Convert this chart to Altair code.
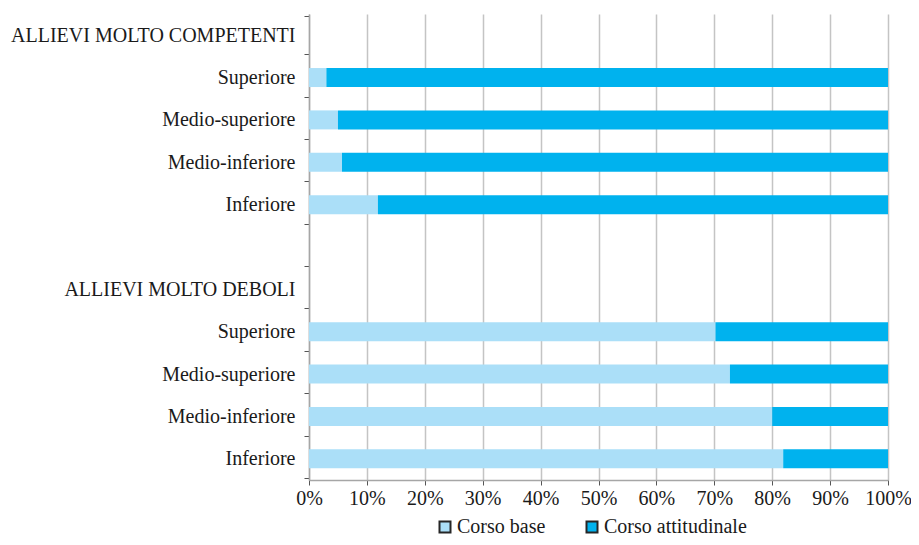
import altair as alt
import pandas as pd

row_labels = ["ALLIEVI MOLTO COMPETENTI", "Superiore", "Medio-superiore", "Medio-inferiore", "Inferiore",
              "", "ALLIEVI MOLTO DEBOLI", "Superiore", "Medio-superiore", "Medio-inferiore", "Inferiore"]
bar_rows = [1, 2, 3, 4, 7, 8, 9, 10]
series = ["Corso base", "Corso attitudinale"]
corso_base = [3.0, 5.0, 5.7, 11.9, 70.2, 72.7, 80.0, 81.9]
corso_attitudinale = [97.0, 95.0, 94.3, 88.1, 29.8, 27.3, 20.0, 18.1]
x_ticks = [0, 10, 20, 30, 40, 50, 60, 70, 80, 90, 100]
colors = ["#abdff8", "#00b2ee"]

rows = []
for r, b, a in zip(bar_rows, corso_base, corso_attitudinale):
    rows.append({"row": r, "serie": series[0], "ord": 0, "val": b})
    rows.append({"row": r, "serie": series[1], "ord": 1, "val": a})
df = pd.DataFrame(rows)

label_js = "[" + ",".join("'" + s + "'" for s in row_labels) + "]"
FONT = "Liberation Serif"
FS = 20

chart = alt.Chart(df).mark_bar(size=19).encode(
    y=alt.Y("row:O", scale=alt.Scale(domain=list(range(len(row_labels)))),
            axis=alt.Axis(title=None, labelExpr=label_js + "[datum.value]", tickBand="extent",
                          ticks=True, tickSize=5, tickColor="#555555", domainColor="#a6a6a6",
                          domainWidth=1.5, labelPadding=9, labelFontSize=FS, labelFont=FONT,
                          labelColor="#1a1a1a", grid=False, labelLimit=400)),
    x=alt.X("val:Q", stack="zero", scale=alt.Scale(domain=[0, 100], nice=False),
            axis=alt.Axis(title=None, values=x_ticks, labelExpr="datum.value + '%'",
                          grid=True, gridColor="#c4c4c4", gridWidth=1.5,
                          domainColor="#a6a6a6", domainWidth=1.5, tickColor="#555555",
                          tickSize=5, labelPadding=3, labelFontSize=FS, labelFont=FONT,
                          labelColor="#1a1a1a", labelFlush=False)),
    color=alt.Color("serie:N", scale=alt.Scale(domain=series, range=colors),
                    legend=alt.Legend(title=None, orient="none", direction="horizontal",
                                      legendX=126, legendY=503, symbolType="square",
                                      symbolSize=121, symbolStrokeColor="#262626",
                                      symbolStrokeWidth=2, labelFont=FONT, labelFontSize=FS,
                                      labelColor="#1a1a1a", labelOffset=2, columnPadding=36,
                                      padding=0)),
    order=alt.Order("ord:Q"),
).properties(
    width=579, height=466,
    autosize=alt.AutoSizeParams(type="none"),
    padding={"left": 301, "top": 6, "right": 23, "bottom": 57},
).configure_view(stroke=None)

chart.save("out.html", embed_options={"renderer": "svg", "actions": False})
